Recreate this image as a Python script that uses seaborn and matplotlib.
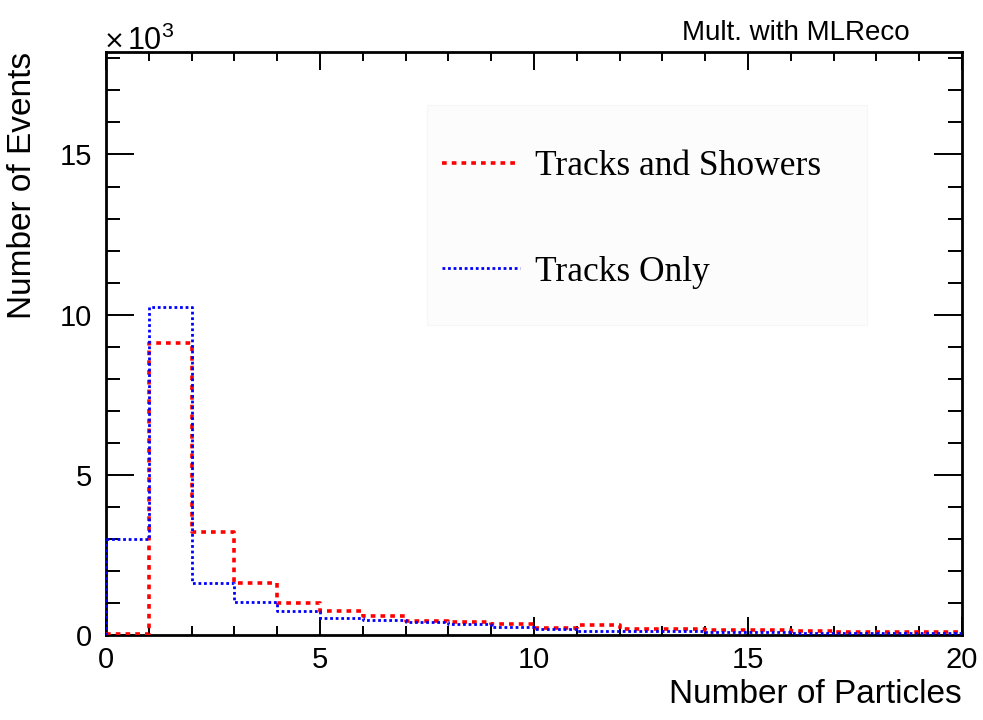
import numpy as np
import pandas as pd
import seaborn as sns
import matplotlib
matplotlib.use("Agg")
import matplotlib.pyplot as plt
from matplotlib.patches import Rectangle
from matplotlib.ticker import MultipleLocator

# Particle multiplicity per event, bins of width 1 from 0 to 20 (counts in thousands)
bin_edges = list(range(0, 21))
tracks_showers = [0.03, 9.10, 3.23, 1.61, 0.99, 0.74, 0.60, 0.44, 0.41, 0.35,
                  0.23, 0.32, 0.20, 0.20, 0.14, 0.14, 0.13, 0.08, 0.08, 0.08]
tracks_only = [3.00, 10.25, 1.61, 1.04, 0.74, 0.54, 0.46, 0.40, 0.33, 0.26,
               0.20, 0.13, 0.12, 0.11, 0.09, 0.08, 0.07, 0.06, 0.06, 0.05]
series_labels = ["Tracks and Showers", "Tracks Only"]

sns.set_theme(style="ticks")
plt.rcParams["font.family"] = ["Liberation Sans", "DejaVu Sans"]
plt.rcParams["mathtext.fontset"] = "custom"
plt.rcParams["mathtext.rm"] = "Liberation Sans"
plt.rcParams["text.color"] = "black"
plt.rcParams["axes.labelcolor"] = "black"
plt.rcParams["xtick.color"] = "black"
plt.rcParams["ytick.color"] = "black"

fig = plt.figure(figsize=(9.83, 7.2), dpi=100)
ax = fig.add_axes([0.1078, 0.1181, 0.8708, 0.8097])

centers = np.array(bin_edges[:-1]) + 0.5
df = pd.DataFrame({
    "n": np.concatenate([centers, centers]),
    "w": np.concatenate([tracks_showers, tracks_only]),
    "sample": [series_labels[0]] * len(centers) + [series_labels[1]] * len(centers),
})

styles = {
    series_labels[0]: dict(color="#ff0000", linewidth=2.6, linestyle=(0, (1.3, 1.4))),
    series_labels[1]: dict(color="#0000ff", linewidth=2.0, linestyle=(0, (1.0, 1.0))),
}
handles = []
for name in series_labels:
    sub = df[df["sample"] == name]
    sns.histplot(data=sub, x="n", weights="w", bins=bin_edges, element="step",
                 fill=False, ax=ax, zorder=3, **styles[name])
    handles.append(ax.get_lines()[-1])
    # left edge of the first bin rises from zero
    first = sub["w"].iloc[0]
    ax.plot([bin_edges[0], bin_edges[0]], [0, first], zorder=3, **styles[name])

ax.set_xlim(0, 20)
ax.set_ylim(0, 18.2)
ax.xaxis.set_major_locator(MultipleLocator(5))
ax.xaxis.set_minor_locator(MultipleLocator(1))
ax.yaxis.set_major_locator(MultipleLocator(5))
ax.yaxis.set_minor_locator(MultipleLocator(1))

for s in ax.spines.values():
    s.set_linewidth(2.0)
    s.set_color("black")
    s.set_visible(True)

ax.tick_params(axis="x", which="major", direction="in", length=13, width=1.4,
               top=True, bottom=True, labelsize=21, pad=8)
ax.tick_params(axis="x", which="minor", direction="in", length=6.5, width=1.4,
               top=True, bottom=True)
ax.tick_params(axis="y", which="major", direction="in", length=20, width=1.4,
               left=True, right=True, labelsize=21, pad=10)
ax.tick_params(axis="y", which="minor", direction="in", length=10, width=1.4,
               left=True, right=True)

ax.set_xlabel("Number of Particles", fontsize=24)
ax.xaxis.set_label_coords(1.0, -0.075)
ax.xaxis.label.set_horizontalalignment("right")
ax.set_ylabel("Number of Events", fontsize=24)
ax.yaxis.set_label_coords(-0.098, 1.0)
ax.yaxis.label.set_verticalalignment("center")
ax.yaxis.label.set_horizontalalignment("right")

# axis multiplier above the y axis
fig.text(104 / 983, 1 - 49 / 720, "\u00d7", fontsize=18, family="DejaVu Sans",
         ha="left", va="baseline")
fig.text(127 / 983, 1 - 50 / 720, "10$^{3}$", fontsize=22,
         ha="left", va="baseline")
fig.text(796 / 983, 1 - 33 / 720, "Mult. with MLReco", fontsize=20,
         ha="center", va="center")

# pale legend panel
ax.add_patch(Rectangle((427 / 983, 1 - 325 / 720), 440 / 983, 220 / 720,
                       transform=fig.transFigure, facecolor="#fcfcfc",
                       edgecolor="#f6f6f6", linewidth=0.8, zorder=0.5))

leg = ax.legend(
    handles=handles, labels=series_labels,
    loc="upper left", bbox_to_anchor=(442 / 983, 1 - 150 / 720),
    bbox_transform=fig.transFigure,
    prop={"family": "Liberation Serif", "size": 25.5},
    frameon=False, handlelength=2.2, handletextpad=0.42, labelspacing=2.05,
    borderpad=0, borderaxespad=0,
)
leg.set_zorder(6)

fig.savefig("out.png", dpi=100, facecolor="white")
